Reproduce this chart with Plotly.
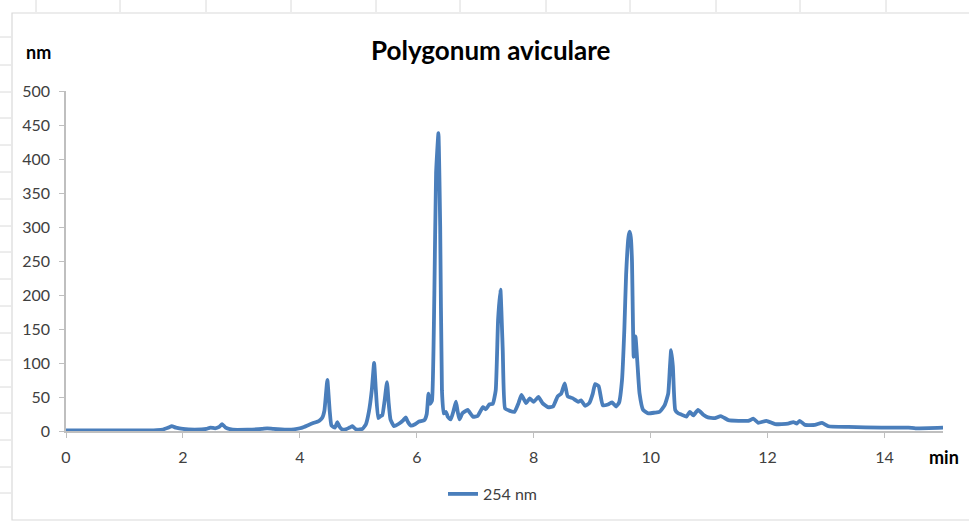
import plotly.graph_objects as go

# Retention time (min) and detector response at 254 nm
time_min = [0, 0.5, 1.0, 1.5, 1.65, 1.75, 1.81, 1.88, 2.0, 2.2, 2.4, 2.47, 2.55, 2.62, 2.67, 2.73, 2.85,
            3.1, 3.35, 3.44, 3.55, 3.8, 3.9, 4.0, 4.07, 4.15, 4.24, 4.33, 4.38, 4.42, 4.47, 4.51, 4.54,
            4.6, 4.64, 4.68, 4.73, 4.8, 4.85, 4.9, 4.95, 4.98, 5.07, 5.13, 5.18, 5.23, 5.27, 5.3, 5.34,
            5.38, 5.41, 5.45, 5.49, 5.52, 5.55, 5.61, 5.70, 5.77, 5.81, 5.85, 5.90, 5.97, 6.04, 6.13,
            6.17, 6.20, 6.23, 6.26, 6.30, 6.33, 6.37, 6.40, 6.43, 6.46, 6.50, 6.53, 6.58, 6.63, 6.67,
            6.70, 6.73, 6.78, 6.87, 6.96, 7.04, 7.13, 7.18, 7.24, 7.30, 7.35, 7.39, 7.43, 7.47, 7.51,
            7.58, 7.67, 7.74, 7.79, 7.87, 7.93, 8.00, 8.08, 8.15, 8.24, 8.33, 8.41, 8.47, 8.53, 8.58,
            8.67, 8.76, 8.81, 8.88, 8.95, 9.01, 9.05, 9.11, 9.18, 9.27, 9.34, 9.41, 9.46, 9.51, 9.55,
            9.58, 9.62, 9.64, 9.66, 9.68, 9.71, 9.74, 9.77, 9.81, 9.87, 9.96, 10.07, 10.15, 10.24,
            10.30, 10.33, 10.35, 10.38, 10.42, 10.47, 10.53, 10.61, 10.67, 10.73, 10.81, 10.90, 10.98,
            11.10, 11.20, 11.33, 11.50, 11.67, 11.76, 11.84, 11.98, 12.13, 12.35, 12.44, 12.50, 12.55,
            12.64, 12.81, 12.93, 13.04, 13.38, 13.95, 14.41, 14.53, 15.0]
signal_254 = [1, 1, 1, 1, 2, 5, 7, 5, 3, 2, 3, 5, 4, 6, 10, 5, 2,
              2, 3, 4, 3, 2, 2.5, 4, 6, 9, 12, 15, 19, 30, 75, 30, 8,
              5, 13, 6, 2, 3, 5, 7, 3, 2, 3, 10, 28, 60, 100, 60, 19,
              22, 23, 45, 72, 40, 17, 7, 11, 16, 20, 13, 8, 10, 14, 16,
              25, 55, 40, 45, 200, 380, 438, 300, 60, 26, 28, 21, 17, 30, 43,
              28, 17, 26, 31, 21, 22, 35, 32, 39, 40, 60, 163, 208, 119, 33,
              30, 28, 41, 53, 41, 48, 43, 50, 41, 35, 36, 51, 55, 70, 51,
              48, 43, 45, 37, 41, 55, 69, 66, 38, 39, 42, 36, 42, 75, 150,
              230, 285, 293, 285, 251, 109, 139, 104, 55, 31, 26, 27, 28, 38,
              55, 95, 119, 95, 31, 26, 24, 21, 28, 23, 31, 24, 20,
              19, 22, 16, 15, 15, 18, 12, 15, 10, 11, 13, 11, 15,
              9, 9, 12, 7, 6, 5, 5, 4, 5]

series_name = "254 nm"
title_text = "Polygonum aviculare"
y_unit = "nm"
x_unit = "min"
x_ticks = [0, 2, 4, 6, 8, 10, 12, 14]
y_ticks = [0, 50, 100, 150, 200, 250, 300, 350, 400, 450, 500]

W, H = 969, 524
L, R, T, B = 66, 943, 91, 431  # plot area in pixels


def px(x):
    return (x - L) / (R - L)


def py(y):
    return (B - y) / (B - T)


FONT = "Lato, 'Open Sans', sans-serif"
GRAY_TXT = "#404040"
AXIS = "#bfbfbf"

fig = go.Figure()
fig.add_trace(go.Scatter(
    x=time_min, y=signal_254, mode="lines", name=series_name,
    line=dict(color="#4a7ebb", width=3.8, shape="spline", smoothing=0.4),
    showlegend=True,
))

shapes = []
# outer chart frame
shapes.append(dict(type="rect", xref="paper", yref="paper",
                   x0=px(12), x1=px(980), y0=py(13), y1=py(520),
                   line=dict(color="#d9d9d9", width=1.2), layer="below"))
# spreadsheet cell gridlines peeking out
for cx in [36, 120, 206, 291, 376, 460, 546, 630, 716, 800, 886]:
    shapes.append(dict(type="line", xref="paper", yref="paper",
                       x0=px(cx), x1=px(cx), y0=py(0), y1=py(12),
                       line=dict(color="#dadada", width=1), layer="below"))
for cy in [37, 65, 92, 118, 145, 172, 199, 226, 252, 279, 306, 333, 360, 387, 413, 440, 467, 493]:
    shapes.append(dict(type="line", xref="paper", yref="paper",
                       x0=px(0), x1=px(11), y0=py(cy), y1=py(cy),
                       line=dict(color="#dadada", width=1), layer="below"))

annotations = [
    dict(text=f"<b>{title_text}</b>", xref="paper", yref="paper", x=px(491), y=py(50),
         showarrow=False, font=dict(family=FONT, size=26, color="#000000"),
         xanchor="center", yanchor="middle"),
    dict(text=f"<b>{y_unit}</b>", xref="paper", yref="paper", x=px(38), y=py(52),
         showarrow=False, font=dict(family=FONT, size=18, color="#000000"),
         xanchor="center", yanchor="middle"),
    dict(text=f"<b>{x_unit}</b>", xref="paper", yref="paper", x=px(944), y=py(457),
         showarrow=False, font=dict(family=FONT, size=18, color="#000000"),
         xanchor="center", yanchor="middle"),
]

fig.update_layout(
    width=W, height=H,
    margin=dict(l=L, r=W - R, t=T, b=H - B, pad=0),
    paper_bgcolor="white", plot_bgcolor="white",
    shapes=shapes, annotations=annotations,
    showlegend=True,
    legend=dict(orientation="h", x=px(493), y=py(494), xanchor="center", yanchor="middle",
                font=dict(family=FONT, size=16, color=GRAY_TXT), bgcolor="rgba(0,0,0,0)"),
    xaxis=dict(range=[0, 15], tickvals=x_ticks, ticktext=[str(v) for v in x_ticks],
               showgrid=False, zeroline=False, showline=True, linecolor=AXIS, linewidth=1.5,
               ticks="outside", ticklen=5, tickcolor=AXIS, tickwidth=1,
               tickfont=dict(family=FONT, size=16, color=GRAY_TXT), ticklabelstandoff=6),
    yaxis=dict(range=[0, 500], tickvals=y_ticks, ticktext=[str(v) for v in y_ticks],
               showgrid=False, zeroline=False, showline=True, linecolor=AXIS, linewidth=1.5,
               ticks="outside", ticklen=5, tickcolor=AXIS, tickwidth=1,
               tickfont=dict(family=FONT, size=16, color=GRAY_TXT), ticklabelstandoff=6),
    font=dict(family=FONT),
)

fig.write_html("out.html")
